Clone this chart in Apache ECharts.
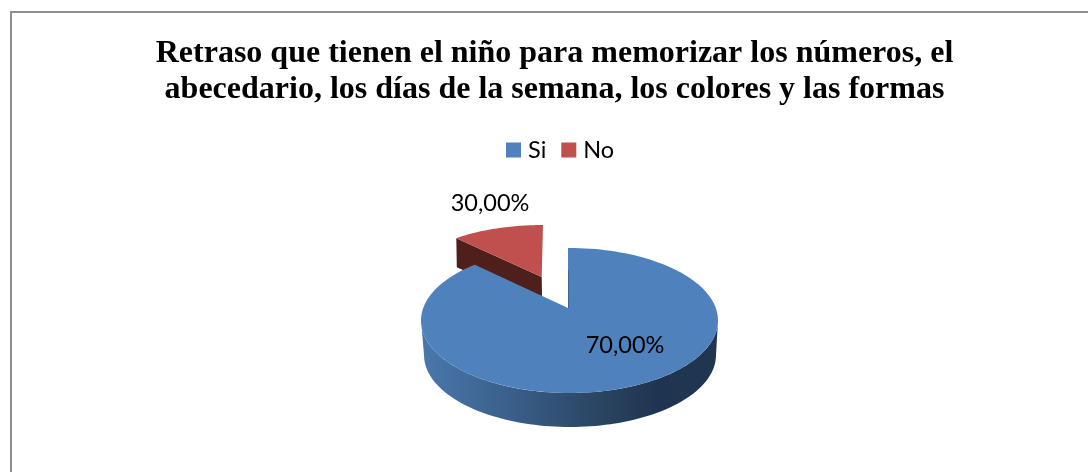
<!DOCTYPE html>
<html>
<head>
<meta charset="utf-8">
<style>html,body{margin:0;padding:0;background:#fff}#c{width:1088px;height:472px}</style>
<script src="https://cdn.jsdelivr.net/npm/echarts@6/dist/echarts.min.js"></script>
</head>
<body>
<div id="c"></div>
<script>
// Slice labels as printed, and the shares as actually drawn in the picture
const categories = ['Si', 'No'];
const labels = ['70,00%', '30,00%'];
const drawnShares = [89, 11];
const titleLines = [
  'Retraso que tienen el niño para memorizar los números, el',
  'abecedario, los días de la semana, los colores y las formas'
];

const total = drawnShares[0] + drawnShares[1];
const rad = d => d * Math.PI / 180;
function rim(c, t) { return [c.x + c.rx * Math.sin(rad(t)), c.y - c.ry * Math.cos(rad(t))]; }
function arc(c, a, b, n) {
  const out = [];
  for (let i = 0; i <= n; i++) out.push(rim(c, a + (b - a) * i / n));
  return out;
}
const blueFace = { x: 569.5, y: 320.5, rx: 148.5, ry: 72.5 };
const blueBase = { x: 570, y: 355, rx: 146, ry: 72 };
const blueTip = [568, 308];
const redFace = { x: 543, y: 282.3, rx: 136, ry: 57.3 };
const redTip = [541.7, 277];
const redDepth = 29;

function renderSi(params, api) {
  const end = 360 * api.value(0) / total;
  const wall = arc(blueFace, 90, 270, 90).concat(arc(blueBase, 270, 90, 90));
  const topY = blueFace.y - blueFace.ry;
  return {
    type: 'group',
    children: [
      { type: 'polygon', shape: { points: wall }, style: { fill: new echarts.graphic.LinearGradient(0, 0, 1, 0, [
        { offset: 0, color: '#4a78ac' },
        { offset: 0.3, color: '#3a5f8a' },
        { offset: 0.62, color: '#29435f' },
        { offset: 0.8, color: '#1f3450' },
        { offset: 1, color: '#203650' }
      ]) } },
      { type: 'polygon', shape: { points: [blueTip, [blueTip[0], topY]].concat(arc(blueFace, 0, end, 160)) }, style: { fill: api.visual('color') } },
      { type: 'polygon', shape: { points: [blueTip, [blueTip[0], topY + 22], [blueTip[0] + 0.8, topY + 22], [blueTip[0] + 1, blueTip[1]]] }, style: { fill: '#3d628e' } },
      { type: 'text', style: { text: labels[0], x: 625, y: 345, align: 'center', verticalAlign: 'middle', font: '23.5px Lato', fill: '#000' } }
    ]
  };
}
function renderNo(params, api) {
  const start = 360 * (1 - api.value(0) / total);
  const edge = rim(redFace, start);
  const below = p => [p[0] + 0.5, p[1] + redDepth];
  return {
    type: 'group',
    children: [
      { type: 'polygon', shape: { points: [edge, redTip, below(redTip), below(edge)] }, style: { fill: '#4f1f1c' } },
      { type: 'polygon', shape: { points: [redTip].concat(arc(redFace, start, 360, 40)) }, style: { fill: api.visual('color') } },
      { type: 'text', style: { text: labels[1], x: 490, y: 203, align: 'center', verticalAlign: 'middle', font: '23.5px Lato', fill: '#000' } }
    ]
  };
}

const chart = echarts.init(document.getElementById('c'), null, { renderer: 'canvas' });
chart.setOption({
  animation: false,
  backgroundColor: '#fff',
  title: {
    text: titleLines.join('\n'),
    left: 549.5, top: 31, textAlign: 'center',
    textStyle: { fontFamily: 'Liberation Serif', fontWeight: 'bold', fontSize: 32, lineHeight: 36, color: '#000' }
  },
  legend: {
    data: categories,
    left: 506, top: 138,
    padding: 0,
    itemWidth: 15, itemHeight: 15, itemGap: 15,
    icon: 'rect',
    textStyle: { fontFamily: 'Lato', fontSize: 23.5, color: '#000', padding: [0, 0, 0, 2] }
  },
  graphic: [
    { type: 'polyline', silent: true, z: 0,
      shape: { points: [[11, 472], [11, 12], [1088, 12]] },
      style: { stroke: '#8e8e8e', lineWidth: 2, fill: null } }
  ],
  series: [
    { name: categories[1], type: 'custom', coordinateSystem: 'none', renderItem: renderNo, z: 2,
      itemStyle: { color: '#c0504d' }, data: [[drawnShares[1]]], silent: true },
    { name: categories[0], type: 'custom', coordinateSystem: 'none', renderItem: renderSi, z: 3,
      itemStyle: { color: '#4f81bd' }, data: [[drawnShares[0]]], silent: true }
  ]
});
</script>
</body>
</html>
